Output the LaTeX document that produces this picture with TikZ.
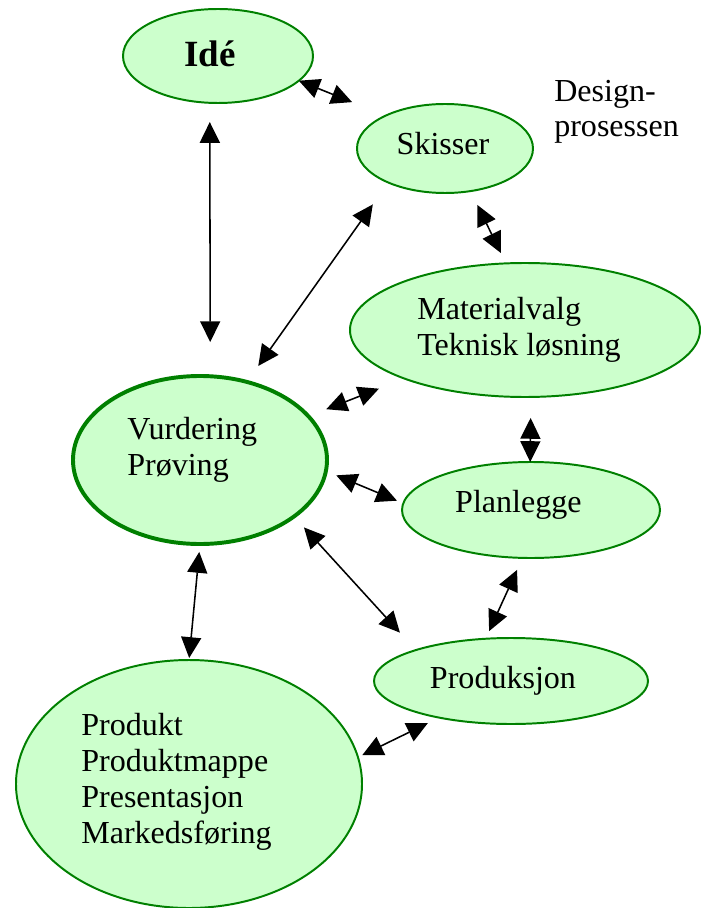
\documentclass[tikz,border=0pt]{standalone}
\usepackage{fontspec}
\setmainfont{Liberation Serif}
\usetikzlibrary{arrows.meta,shapes.geometric}
\definecolor{bubblefill}{HTML}{CCFFCC}
\definecolor{bubbleline}{HTML}{008000}
\tikzset{
  bubble/.style={ellipse, draw=bubbleline, fill=bubblefill, line width=1.4pt, inner sep=0pt, outer sep=0pt},
  txt/.style={align=left, inner sep=0pt, font=\fontsize{22.8}{25.6}\selectfont},
  link/.style={{Triangle[length=0.52cm,width=0.5cm]}-{Triangle[length=0.52cm,width=0.5cm]}, line width=1.1pt},
}
\begin{document}
\begin{tikzpicture}
        \useasboundingbox (0,0) rectangle (17.65,-22.7);

        \node[bubble, minimum width=4.75cm, minimum height=2.35cm] (ide) at (5.45,-1.4) {};
        \node[bubble, minimum width=4.4cm, minimum height=2.225cm] (sk) at (11.125,-3.7125) {};
        \node[bubble, minimum width=8.75cm, minimum height=3.35cm] (mat) at (13.125,-8.25) {};
        \node[bubble, line width=2.8pt, minimum width=6.35cm, minimum height=4.2cm] (vur) at (5,-11.5) {};
        \node[bubble, minimum width=6.45cm, minimum height=2.4cm] (plan) at (13.275,-12.75) {};
        \node[bubble, minimum width=6.85cm, minimum height=2.15cm] (prodsj) at (12.775,-17.025) {};
        \node[bubble, minimum width=8.65cm, minimum height=6.2cm] (prod) at (4.725,-19.6) {};

        \node[txt, anchor=base, font=\fontsize{26.3}{30}\selectfont\bfseries] (ide-txt) at (5.25,-1.667) {Idé};
        \node[txt, anchor=base] (sk-txt) at (11.075,-3.875) {Skisser};
        \node[txt, anchor=base west] (mat-txt) at (10.425,-8.875) {Materialvalg\\Teknisk løsning};
        \node[txt, anchor=base west] (vur-txt) at (3.175,-11.875) {Vurdering\\Prøving};
        \node[txt, anchor=base] (plan-txt) at (12.96,-12.82) {Planlegge};
        \node[txt, anchor=base] (prodsj-txt) at (12.575,-17.21) {Produksjon};
        \node[txt, anchor=base west] (prod-txt) at (2.025,-21.075) {Produkt\\Produktmappe\\Presentasjon\\Markedsføring};
        \node[txt, anchor=base west] (design) at (13.85,-3.425) {Design-\\prosessen};

        % arrows between the steps
        \draw[link, shorten >=0.905cm] (ide.-17) -- (sk.151.1);
        \draw[link, shorten <=0.48cm, shorten >=0.855cm] (ide.-100.9) -- (vur.83.9);
        \draw[link, shorten <=0.67cm, shorten >=0.49cm] (sk.-149.7) -- (vur.59);
        \draw[link, shorten <=0.385cm, shorten >=0.29cm] (sk.-59.3) -- (mat.106.7);
        \draw[link, shorten <=0.69cm, shorten >=0.48cm] (mat.-158.5) -- (vur.22.8);
        \draw[link, shorten <=0.525cm] (mat.-85.7) -- (plan.91.2);
        \draw[link, shorten <=0.28cm, shorten >=0.17cm] (vur.-5.9) -- (plan.177.1);
        \draw[link, shorten <=0.37cm, shorten >=0.59cm] (vur.-31.6) -- (prodsj.162.3);
        \draw[link, shorten <=0.33cm, shorten >=0.21cm] (plan.-100) -- (prodsj.121.1);
        \draw[link, shorten <=0.2cm, shorten >=0.05cm] (vur.-90) -- (prod.90.3);
        \draw[link, shorten <=0.12cm, shorten >=0.315cm] (prod.9.1) -- (prodsj.-153.4);
\end{tikzpicture}
\end{document}
